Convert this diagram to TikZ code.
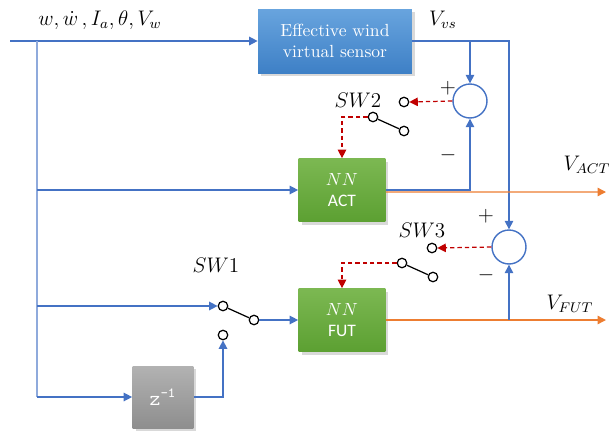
\documentclass[tikz,border=0pt]{standalone}
\usepackage{amsmath}
\usepackage{fontspec}
\setsansfont{Carlito}
\usetikzlibrary{arrows.meta,positioning,calc,shadows}
\definecolor{sigblue}{RGB}{68,114,196}
\definecolor{lightsig}{RGB}{143,170,220}
\definecolor{outorange}{RGB}{237,125,49}
\definecolor{ctrlred}{RGB}{192,0,0}
\definecolor{bluetop}{RGB}{104,164,222}
\definecolor{bluebot}{RGB}{62,128,198}
\definecolor{greentop}{RGB}{124,184,82}
\definecolor{greenbot}{RGB}{92,160,50}
\definecolor{graytop}{RGB}{178,178,178}
\definecolor{graybot}{RGB}{142,142,142}

\begin{document}
\begin{tikzpicture}[x=0.02cm,y=-0.02cm,
    >={Triangle[length=4.8pt,width=4.8pt]},
    block/.style={minimum width=1.74cm,minimum height=1.26cm,align=center,text=white,
      drop shadow={opacity=0.3,shadow xshift=0.06cm,shadow yshift=-0.06cm}},
    sumnode/.style={circle,draw=sigblue,line width=0.8pt,fill=white,minimum size=0.68cm,inner sep=0pt},
    contact/.style={circle,draw=black,fill=white,line width=0.7pt,minimum size=0.19cm,inner sep=0pt},
    sig/.style={->,sigblue,line width=0.8pt},
    outsig/.style={->,outorange,line width=0.8pt},
    ctrl/.style={->,ctrlred,dash pattern=on 2.5pt off 1.7pt,line width=0.7pt},
    lbl/.style={font=\large}
]
\useasboundingbox (0,0) rectangle (613,434);

% blocks
\node[block,minimum width=3.08cm,minimum height=1.28cm,top color=bluetop,bottom color=bluebot] (evs) at (335,41) {Effective wind\\virtual sensor};
\node[block,top color=greentop,bottom color=greenbot] (actnn) at (342,190) {$NN$\\{\sffamily ACT}};
\node[block,top color=greentop,bottom color=greenbot] (futnn) at (342,320) {$NN$\\{\sffamily FUT}};
\node[block,minimum width=1.22cm,minimum height=1.24cm,top color=graytop,bottom color=graybot,font=\large\ttfamily] (delay) at (163,397) {z\textsuperscript{-1}};

\node[sumnode] (sum1) at (470,101) {};
\node[sumnode] (sum2) at (509,247) {};

% switches
\node[contact] (sw1a) at (223,306) {};
\node[contact] (sw1b) at (254,320) {};
\node[contact] (sw1c) at (223,335) {};
\node[contact] (sw2a) at (373,117) {};
\node[contact] (sw2b) at (404,131) {};
\node[contact] (sw2c) at (404,102) {};
\node[contact] (sw3a) at (402,263) {};
\node[contact] (sw3b) at (433,277) {};
\node[contact] (sw3c) at (432,248) {};
\draw[line width=0.7pt] (sw1a) -- (sw1b);
\draw[line width=0.7pt] (sw2a) -- (sw2b);
\draw[line width=0.7pt] (sw3a) -- (sw3b);

% inputs
\coordinate (in) at (10,41);
\coordinate (trunk) at (37,41);
\coordinate (tapA) at (37,190);
\coordinate (tapB) at (37,306);
\coordinate (tapC) at (37,397);
\node[lbl] (inlbl) at (100,20) {$w,\dot{w}\,,I_a,\theta,V_w$};
\draw[sig] (in) -- (evs.west);
\draw[lightsig,line width=0.8pt] (trunk) -- (tapC);
\draw[sig] (tapA) -- (actnn.west);
\draw[sig] (tapB) -- (sw1a.west);
\draw[sig] (tapC) -- (delay.west);
\draw[sig] (delay.east) -| (sw1c.south);
\draw[sig] (sw1b.east) -- (futnn.west);

% virtual sensor output
\coordinate (vsjoin) at (470,41);
\draw[sig] (evs.east) -| (sum2.north);
\draw[sig] (vsjoin) -- (sum1.north);
\node[lbl] (vslbl) at (443,20) {$V_{vs}$};

% outputs
\coordinate (actout) at (606,192);
\coordinate (futout) at (606,320);
\coordinate (futtap) at (509,320);
\draw[outsig] ([yshift=-0.04cm]actnn.east) -- (actout);
\draw[sig] (actnn.east) -| (sum1.south);
\draw[outsig] (futnn.east) -- (futout);
\draw[sig] (futtap) -- (sum2.south);
\node[lbl] (actlbl) at (587,165) {$V_{ACT}$};
\node[lbl] (futlbl) at (570,304) {$V_{FUT}$};

% error signals to switches
\draw[ctrl] (sum1.west) -- (sw2c.east);
\draw[ctrl] (sw2a.west) -| (actnn.north);
\draw[ctrl] (sum2.west) -- (sw3c.east);
\draw[ctrl] (sw3a.west) -| (futnn.north);

% signs and switch names
\node[lbl] (p1) at (448,88) {$+$};
\node[lbl] (m1) at (448,155) {$-$};
\node[lbl] (p2) at (486,216) {$+$};
\node[lbl] (m2) at (486,275) {$-$};
\node[lbl] (sw1lbl) at (216,265) {$SW1$};
\node[lbl] (sw2lbl) at (358,100) {$SW2$};
\node[lbl] (sw3lbl) at (422,230) {$SW3$};
\end{tikzpicture}
\end{document}
